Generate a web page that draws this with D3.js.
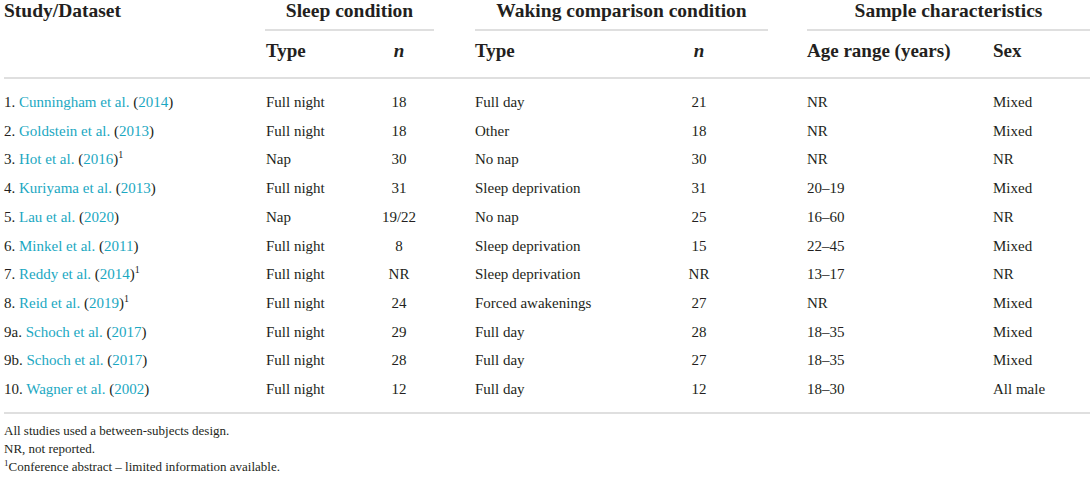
<!DOCTYPE html>
<html>
<head>
<meta charset="utf-8">
<script src="https://cdn.jsdelivr.net/npm/d3@7"></script>
<style>
  body { margin: 0; background: #fff; }
  svg { display: block; font-family: "Liberation Serif", "Times New Roman", serif; }
</style>
</head>
<body>
<div id="table"></div>
<script>
// Table values
const studyIds   = ['1', '2', '3', '4', '5', '6', '7', '8', '9a', '9b', '10'];
const authors    = ['Cunningham et al.', 'Goldstein et al.', 'Hot et al.', 'Kuriyama et al.', 'Lau et al.',
                    'Minkel et al.', 'Reddy et al.', 'Reid et al.', 'Schoch et al.', 'Schoch et al.', 'Wagner et al.'];
const years      = ['2014', '2013', '2016', '2013', '2020', '2011', '2014', '2019', '2017', '2017', '2002'];
const abstractMark = [false, false, true, false, false, false, true, true, false, false, false];
const sleepTypes = ['Full night', 'Full night', 'Nap', 'Full night', 'Nap', 'Full night', 'Full night',
                    'Full night', 'Full night', 'Full night', 'Full night'];
const sleepN     = ['18', '18', '30', '31', '19/22', '8', 'NR', '24', '29', '28', '12'];
const wakeTypes  = ['Full day', 'Other', 'No nap', 'Sleep deprivation', 'No nap', 'Sleep deprivation',
                    'Sleep deprivation', 'Forced awakenings', 'Full day', 'Full day', 'Full day'];
const wakeN      = ['21', '18', '30', '31', '25', '15', 'NR', '27', '28', '27', '12'];
const ageRanges  = ['NR', 'NR', 'NR', '20–19', '16–60', '22–45', '13–17', 'NR', '18–35', '18–35', '18–30'];
const sexes      = ['Mixed', 'Mixed', 'NR', 'Mixed', 'NR', 'Mixed', 'NR', 'Mixed', 'Mixed', 'Mixed', 'All male'];

const groupHeaders = ['Sleep condition', 'Waking comparison condition', 'Sample characteristics'];
const subHeaders   = ['Type', 'n', 'Type', 'n', 'Age range (years)', 'Sex'];
const footnotes    = ['All studies used a between-subjects design.', 'NR, not reported.',
                      'Conference abstract – limited information available.'];

const width = 1092, height = 481;
const ink = '#231f20', link = '#1ba8c2', rule = '#d4d4d4';

const rows = studyIds.map((id, i) => ({
    id, author: authors[i], year: years[i], mark: abstractMark[i],
    cells: [sleepTypes[i], sleepN[i], wakeTypes[i], wakeN[i], ageRanges[i], sexes[i]]
}));

// column layout: x and anchor of each data column
const columns = [
    {x: 266, anchor: 'start'},
    {x: 399, anchor: 'middle'},
    {x: 475, anchor: 'start'},
    {x: 699, anchor: 'middle'},
    {x: 807, anchor: 'start'},
    {x: 993, anchor: 'start'}
];
const groups = [[265, 434], [475, 768], [807, 1090]];

const yScale = d3.scalePoint()
    .domain(studyIds)
    .range([107, 394]);

const svg = d3.select('#table')
    .append('svg')
    .attr('width', width)
    .attr('height', height);

// Group headers with their underlines
svg.append('text')
    .attr('x', 4)
    .attr('y', 17)
    .attr('fill', ink)
    .style('font-size', '19.5px')
    .style('font-weight', 'bold')
    .text('Study/Dataset');

svg.selectAll('.groupHeader')
    .data(groupHeaders)
    .enter().append('text')
    .attr('class', 'groupHeader')
    .attr('x', (d, i) => (groups[i][0] + groups[i][1]) / 2)
    .attr('y', 17)
    .attr('text-anchor', 'middle')
    .attr('fill', ink)
    .style('font-size', '19.5px')
    .style('font-weight', 'bold')
    .text(d => d);

svg.selectAll('.groupRule')
    .data(groups)
    .enter().append('line')
    .attr('class', 'groupRule')
    .attr('x1', d => d[0])
    .attr('x2', d => d[1])
    .attr('y1', 30)
    .attr('y2', 30)
    .attr('stroke', rule)
    .attr('stroke-width', 1.5);

svg.selectAll('.subHeader')
    .data(subHeaders)
    .enter().append('text')
    .attr('class', 'subHeader')
    .attr('x', (d, i) => columns[i].x)
    .attr('y', 57)
    .attr('text-anchor', (d, i) => columns[i].anchor)
    .attr('fill', ink)
    .style('font-size', '19px')
    .style('font-weight', 'bold')
    .style('font-style', d => d === 'n' ? 'italic' : 'normal')
    .text(d => d);

// full-width rules
svg.selectAll('.rule')
    .data([78, 413])
    .enter().append('line')
    .attr('class', 'rule')
    .attr('x1', 4)
    .attr('x2', 1090)
    .attr('y1', d => d)
    .attr('y2', d => d)
    .attr('stroke', rule)
    .attr('stroke-width', 1.5);

// Body rows
const rowG = svg.selectAll('.row')
    .data(rows)
    .enter().append('g')
    .attr('class', 'row')
    .attr('transform', d => 'translate(0,' + yScale(d.id) + ')')
    .style('font-size', '15px');

const study = rowG.append('text')
    .attr('x', 4)
    .attr('fill', ink);
study.append('tspan').text(d => d.id + '. ');
study.append('tspan').attr('fill', link).text(d => d.author);
study.append('tspan').text(' (');
study.append('tspan').attr('fill', link).text(d => d.year);
study.append('tspan').text(')');
study.filter(d => d.mark).append('tspan')
    .attr('dy', -6)
    .style('font-size', '10px')
    .text('1');

rowG.selectAll('.cell')
    .data(d => d.cells)
    .enter().append('text')
    .attr('class', 'cell')
    .attr('x', (d, i) => columns[i].x)
    .attr('text-anchor', (d, i) => columns[i].anchor)
    .attr('fill', ink)
    .text(d => d);

// Footnotes
const notes = svg.selectAll('.note')
    .data(footnotes)
    .enter().append('text')
    .attr('class', 'note')
    .attr('x', 4)
    .attr('y', (d, i) => 435 + i * 18)
    .attr('fill', ink)
    .style('font-size', '13px');
notes.filter((d, i) => i === 2).append('tspan')
    .attr('dy', -5)
    .style('font-size', '9px')
    .text('1');
notes.append('tspan')
    .attr('dy', (d, i) => i === 2 ? 5 : 0)
    .text(d => d);
</script>
</body>
</html>
